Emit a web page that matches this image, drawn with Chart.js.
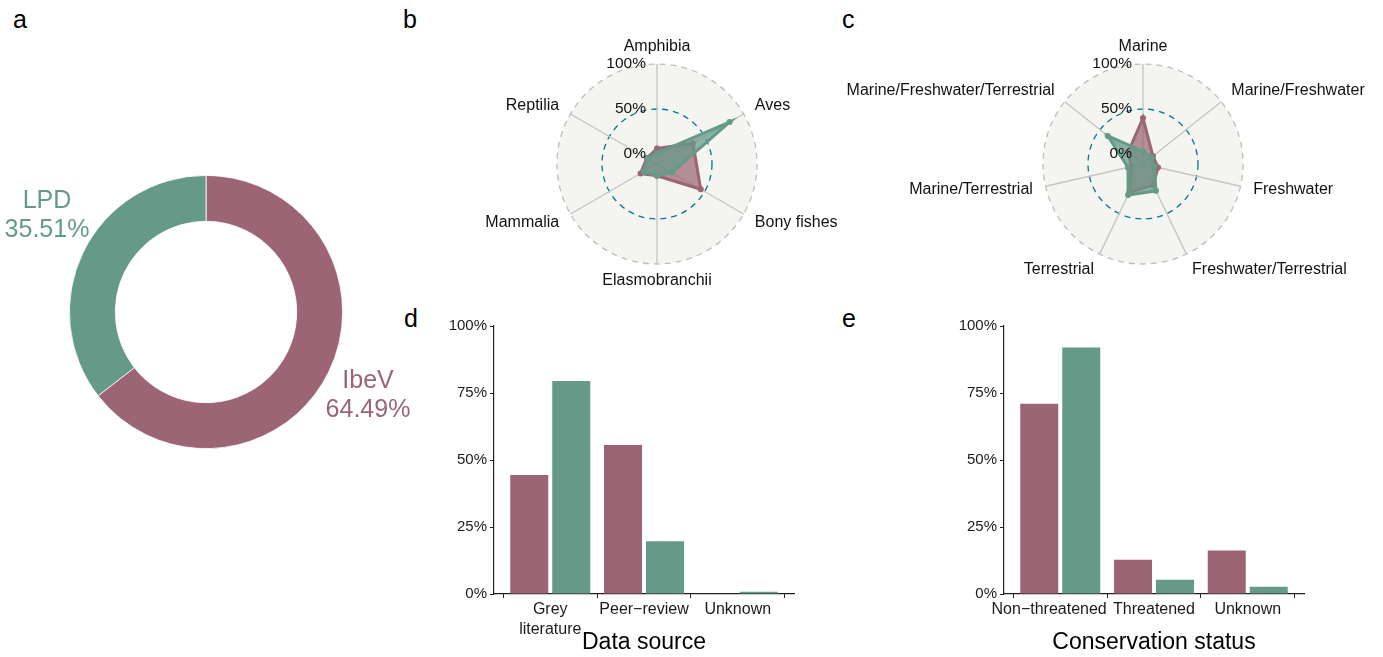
<!DOCTYPE html>
<html>
<head>
<meta charset="utf-8">
<script src="https://cdn.jsdelivr.net/npm/chart.js@4.4.1/dist/chart.umd.min.js"></script>
<style>
  html, body { margin: 0; padding: 0; background: #fff; }
  body { width: 1383px; height: 657px; position: relative; overflow: hidden;
         font-family: 'Liberation Sans', Arial, Helvetica, sans-serif; }
  canvas { position: absolute; }
  .tag { position: absolute; font-size: 25px; line-height: 25px; color: #000; }
</style>
</head>
<body>
<div class="tag" style="left:13px;top:7px">a</div>
<div class="tag" style="left:403px;top:7px">b</div>
<div class="tag" style="left:842px;top:7px">c</div>
<div class="tag" style="left:404px;top:306px">d</div>
<div class="tag" style="left:842px;top:306px">e</div>

<canvas id="donut" width="420" height="330" style="left:0;top:150px"></canvas>
<canvas id="taxa" width="454" height="272" style="left:430px;top:28px"></canvas>
<canvas id="system" width="553" height="272" style="left:830px;top:28px"></canvas>
<canvas id="source" width="420" height="357" style="left:400px;top:300px"></canvas>
<canvas id="status" width="420" height="357" style="left:910px;top:300px"></canvas>

<script>
// ---- data ----
const sources = ['IbeV', 'LPD'];
const sourceShares = [64.49, 35.51];

const taxaLabels = ['Amphibia', 'Aves', 'Bony fishes', 'Elasmobranchii', 'Mammalia', 'Reptilia'];
const taxaIbeV = [6, 35, 45, 2, 10, 2];
const taxaLPD  = [1, 82, 8, 2, 6, 1];

const systemLabels = ['Marine', 'Marine/Freshwater', 'Freshwater', 'Freshwater/Terrestrial',
                      'Terrestrial', 'Marine/Terrestrial', 'Marine/Freshwater/Terrestrial'];
const systemIbeV = [40, 3, 6, 15, 24, 2, 10];
const systemLPD  = [3, 1, 2, 22, 27, 6, 39];

const dataSourceLabels = [['Grey', 'literature'], 'Peer\u2212review', 'Unknown'];
const dataSourceIbeV = [44.4, 55.6, 0];
const dataSourceLPD  = [79.5, 19.7, 0.8];

// trailing no-break spaces nudge the long first label left so it clears its neighbour
const statusLabels = ['Non\u2212threatened\u00a0\u00a0\u00a0\u00a0\u00a0', 'Threatened', 'Unknown'];
const statusIbeV = [71.0, 12.8, 16.2];
const statusLPD  = [92.0, 5.3, 2.7];

const radialTicks = [0, 50, 100];
const barTicks = [0, 25, 50, 75, 100];

// ---- styling ----
const PINK = '#9B6575';
const GREEN = '#659A88';
const FONT = "'Liberation Sans', Arial, Helvetica, sans-serif";
Chart.defaults.font.family = FONT;
Chart.defaults.color = '#1a1a1a';

function rgba(hex, a) {
  const n = parseInt(hex.slice(1), 16);
  return `rgba(${n >> 16},${(n >> 8) & 255},${n & 255},${a})`;
}

// ---- a: doughnut ----
const donutText = {
  id: 'donutText',
  afterDraw(chart) {
    const ctx = chart.ctx;
    const arc = chart.getDatasetMeta(0).data[0];
    const offsets = [[162, 90], [-159, -90]];
    const colors = chart.data.datasets[0].backgroundColor;
    ctx.save();
    ctx.font = '25px ' + FONT;
    ctx.textAlign = 'center';
    ctx.textBaseline = 'alphabetic';
    chart.data.labels.forEach((lab, i) => {
      const x = arc.x + offsets[i][0], y = arc.y + offsets[i][1];
      ctx.fillStyle = colors[i];
      ctx.fillText(lab, x, y - 14.5);
      ctx.fillText(sourceShares[i].toFixed(2) + '%', x, y + 14.5);
    });
    ctx.restore();
  }
};

new Chart(document.getElementById('donut'), {
  type: 'doughnut',
  data: {
    labels: sources,
    datasets: [{ data: sourceShares, backgroundColor: [PINK, GREEN], borderColor: '#ffffff', borderWidth: 0.8 }]
  },
  options: {
    responsive: false, animation: false, cutout: '66.4%',
    layout: { padding: { left: 69, right: 77, top: 25, bottom: 31 } },
    plugins: { legend: { display: false }, tooltip: { enabled: false } }
  },
  plugins: [donutText]
});

// ---- b, c: radar ----
const radarText = {
  id: 'radarText',
  afterDatasetsDraw(chart) {
    const s = chart.scales.r;
    const ctx = chart.ctx;
    ctx.save();
    ctx.fillStyle = '#111';
    ctx.font = '16px ' + FONT;
    ctx.textBaseline = 'middle';
    chart.data.labels.forEach((lab, i) => {
      const a = s.getIndexAngle(i);
      const sx = Math.sin(a), sy = -Math.cos(a);
      const x = s.xCenter + sx * s.drawingArea * 1.13;
      const y = s.yCenter + sy * s.drawingArea * 1.17;
      ctx.textAlign = Math.abs(sx) < 0.01 ? 'center' : (sx > 0 ? 'left' : 'right');
      ctx.fillText(lab, x, y);
    });
    ctx.font = '15.5px ' + FONT;
    ctx.textAlign = 'right';
    radialTicks.forEach(v => {
      const r = s.getDistanceFromCenterForValue(v);
      ctx.fillText(v + '%', s.xCenter - 11, s.yCenter - r);
    });
    ctx.restore();
  }
};

function radarChart(id, labels, ibev, lpd, pad) {
  const ds = (label, data, color, order) => ({
    label, data, order,
    borderColor: color, backgroundColor: rgba(color, 0.72), borderWidth: 3,
    pointRadius: 3, pointBackgroundColor: color, pointBorderWidth: 0, fill: 'start'
  });
  return new Chart(document.getElementById(id), {
    type: 'radar',
    data: { labels, datasets: [ds('IbeV', ibev, PINK, 1), ds('LPD', lpd, GREEN, 0)] },
    options: {
      responsive: false, animation: false,
      layout: { padding: pad },
      plugins: { legend: { display: false }, tooltip: { enabled: false } },
      scales: {
        r: {
          min: -11.1, max: 100, startAngle: 0,
          backgroundColor: '#F4F4F1',
          afterBuildTicks: s => { s.ticks = radialTicks.map(v => ({ value: v })); },
          ticks: { display: false },
          pointLabels: { display: false },
          angleLines: { display: true, color: '#C4C4C4', lineWidth: 1.3 },
          grid: {
            circular: true, lineWidth: 1.3,
            color: c => c.tick.value === 50 ? '#007A87' : (c.tick.value === 100 ? '#BDBDBD' : 'rgba(0,0,0,0)')
          },
          border: { dash: [6, 5] }
        }
      }
    },
    plugins: [radarText]
  });
}

radarChart('taxa', taxaLabels, taxaIbeV, taxaLPD, { left: 127, right: 127, top: 36, bottom: 36 });
radarChart('system', systemLabels, systemIbeV, systemLPD, { left: 213, right: 140, top: 36, bottom: 36 });

// ---- d, e: grouped bars ----
function barChart(id, labels, ibev, lpd, title) {
  return new Chart(document.getElementById(id), {
    type: 'bar',
    data: {
      datasets: [
        { label: 'IbeV', data: ibev.map((v, i) => ({ x: i, y: v })), backgroundColor: PINK },
        { label: 'LPD',  data: lpd.map((v, i) => ({ x: i, y: v })),  backgroundColor: GREEN }
      ]
    },
    options: {
      responsive: false, animation: false,
      layout: { padding: { left: 0, top: 26, right: 26, bottom: 0 } },
      datasets: { bar: { categoryPercentage: 0.896, barPercentage: 0.905, borderWidth: 0 } },
      plugins: { legend: { display: false }, tooltip: { enabled: false } },
      scales: {
        x: {
          type: 'linear', min: -0.6, max: 2.6, offset: false,
          afterBuildTicks: s => { s.ticks = labels.map((_, i) => ({ value: i })); },
          afterFit: s => { s.height = 63; },
          grid: { drawOnChartArea: false, drawTicks: true, tickLength: 4, color: '#222', lineWidth: 1 },
          border: { color: '#222', width: 1.2 },
          ticks: { callback: v => labels[v], font: { size: 16, lineHeight: 1.25 }, color: '#1a1a1a',
                   padding: 2, maxRotation: 0, autoSkip: false },
          title: { display: true, text: title, font: { size: 23 }, color: '#000', padding: { top: 0, bottom: 1 } }
        },
        y: {
          min: 0, max: 100,
          afterBuildTicks: s => { s.ticks = barTicks.map(v => ({ value: v })); },
          afterFit: s => { s.width = 94; },
          grid: { drawOnChartArea: false, drawTicks: true, tickLength: 4, color: '#222', lineWidth: 1 },
          border: { color: '#222', width: 1.2 },
          ticks: { callback: v => v + '%', font: { size: 15 }, color: '#1a1a1a', padding: 3 }
        }
      }
    }
  });
}

barChart('source', dataSourceLabels, dataSourceIbeV, dataSourceLPD, 'Data source');
barChart('status', statusLabels, statusIbeV, statusLPD, 'Conservation status');
</script>
</body>
</html>
